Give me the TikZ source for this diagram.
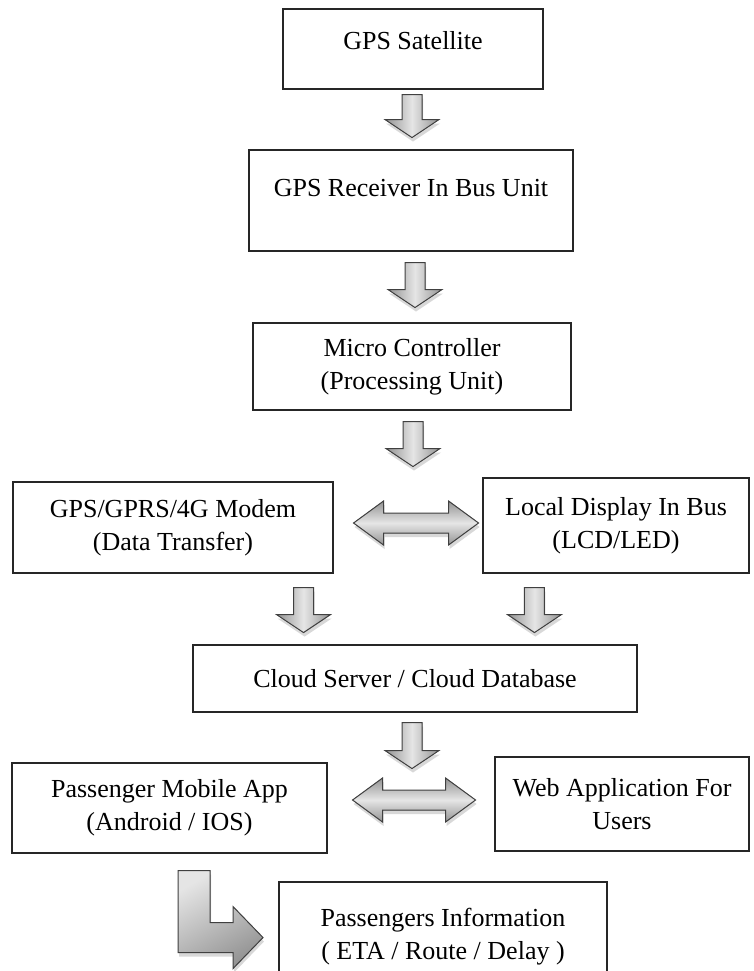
\documentclass[tikz,border=0pt]{standalone}
\usepackage{fontspec}
\setmainfont{Liberation Serif}
\usepackage{tikz}
\tikzset{blockbox/.style={rectangle,draw=black!85,line width=1.1pt,fill=white,align=center,inner sep=0pt,font=\fontsize{26}{33}\selectfont},
         arrowshadow/.style={drop shadow={shadow xshift=1pt,shadow yshift=-4pt,opacity=0.3,fill=gray}},
         vblock/.style={draw=gray!50!black,line width=1pt,arrowshadow,left color=gray!85,right color=gray!85,middle color=gray!20},
         hblock/.style={draw=gray!50!black,line width=1pt,arrowshadow,top color=gray!85,bottom color=gray!85,middle color=gray!20},
         lblock/.style={draw=gray!50!black,line width=1pt,arrowshadow,shading=axis,top color=gray!20,bottom color=gray!85,shading angle=30}}
\usetikzlibrary{calc}
\usetikzlibrary{shadows}

%% block arrows: start point, length
\newcommand{\downblock}[2]{%
  \filldraw[vblock] (#1) ++(-10,0) -- ++(20,0) -- ++(0,{#2-18}) -- ++(17,0) -- ++(-27,18) -- ++(-27,-18) -- ++(17,0) -- cycle;}
\newcommand{\twoblock}[2]{%
  \filldraw[hblock] (#1) -- ++(30,-22) -- ++(0,12) -- ++({#2-60},0) -- ++(0,-12) -- ++(30,22) -- ++(-30,22) -- ++(0,-12) -- ++({60-#2},0) -- ++(0,12) -- cycle;}

\begin{document}
\begin{tikzpicture}[x=1pt,y=-1pt]
\useasboundingbox (0,0) rectangle (753,971);
\clip (0,0) rectangle (753,971);
\fill[white] (0,0) rectangle (753,971);

%% boxes
\node[blockbox,minimum width=260pt,minimum height=80pt,text depth=18pt] (sat) at (413,49) {GPS Satellite};
\node[blockbox,minimum width=324pt,minimum height=101pt,text depth=25pt] (rec) at (411,200.5) {GPS Receiver In Bus Unit};
\node[blockbox,minimum width=318pt,minimum height=87pt] (mc) at (412,366.5) {Micro Controller\\(Processing Unit)};
\node[blockbox,minimum width=320pt,minimum height=91pt] (modem) at (173,527.5) {GPS/GPRS/4G Modem\\(Data Transfer)};
\node[blockbox,minimum width=266pt,minimum height=95pt] (disp) at (616,525.5) {Local Display In Bus\\(LCD/LED)};
\node[blockbox,minimum width=444pt,minimum height=67pt] (cloud) at (415,678.5) {Cloud Server / Cloud Database};
\node[blockbox,minimum width=315pt,minimum height=90pt] (pass) at (169.5,808) {Passenger Mobile App\\(Android / IOS)};
\node[blockbox,minimum width=254pt,minimum height=94pt] (web) at (622,804) {Web Application For\\Users};
\node[blockbox,minimum width=328pt,minimum height=110pt] (info) at (443,937) {Passengers Information\\( ETA / Route / Delay )};

%% where the arrows start
\coordinate (a1) at ($(sat.south)+(-1,5)$);
\coordinate (a2) at ($(rec.south)+(4,11)$);
\coordinate (a3) at ($(mc.south)+(1,11)$);
\coordinate (a4) at ($(modem.south east)+(-30,14)$);
\coordinate (a5) at ($(disp.south west)+(52,14)$);
\coordinate (a6) at ($(cloud.south)+(-3,10)$);
\coordinate (d1) at ($(modem.east)+(20,-4.5)$);
\coordinate (d2) at ($(pass.east)+(25,-8)$);
\coordinate (lt) at ($(pass.south)+(8.5,17)$);

\downblock{a1}{43}
\downblock{a2}{45}
\downblock{a3}{45}
\downblock{a4}{45}
\downblock{a5}{45}
\downblock{a6}{46}
\twoblock{d1}{125}
\twoblock{d2}{123}
\filldraw[lblock] (lt) -- ++(32,0) -- ++(0,52) -- ++(23,0) -- ++(0,-16) -- ++(30,31) -- ++(-30,31) -- ++(0,-16) -- ++(-55,0) -- cycle;

\end{tikzpicture}
\end{document}
